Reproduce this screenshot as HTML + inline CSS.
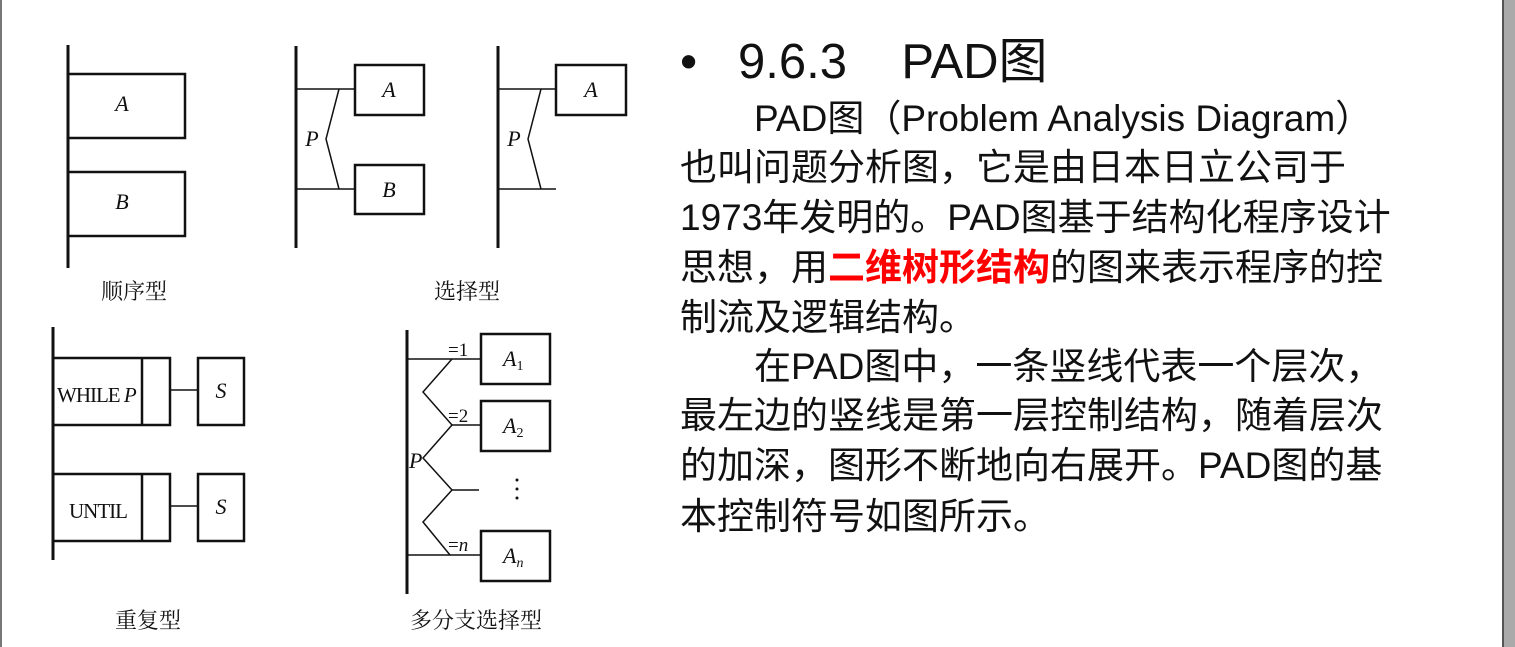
<!DOCTYPE html>
<html><head><meta charset="utf-8"><style>
html,body{margin:0;padding:0;background:#fff;}
body{width:1515px;height:647px;position:relative;overflow:hidden;}
.l{position:absolute;left:680px;font-family:"Liberation Sans","Noto Sans CJK SC",sans-serif;font-size:37px;line-height:50px;color:#111;white-space:nowrap;}
.r{color:#f00;font-weight:bold;}
</style></head><body>
<div style="position:absolute;left:0;top:0;width:2px;height:647px;background:#777"></div>
<div style="position:absolute;left:1502px;top:0;width:2px;height:647px;background:#555"></div>
<div style="position:absolute;left:1504px;top:0;width:11px;height:647px;background:#aaa"></div>

<svg width="660" height="647" style="position:absolute;left:0;top:0" font-family="Liberation Serif,Noto Serif CJK SC,serif">
<g stroke="#111" fill="none">
<line x1="68" y1="45" x2="68" y2="268" stroke-width="3"/>
<rect x="68" y="74" width="117" height="64" stroke-width="2.5"/>
<rect x="68" y="172" width="117" height="64" stroke-width="2.5"/>
<line x1="296" y1="46" x2="296" y2="248" stroke-width="3"/>
<line x1="296" y1="89" x2="355" y2="89" stroke-width="1.5"/>
<line x1="296" y1="189" x2="355" y2="189" stroke-width="1.5"/>
<polyline points="339,89 326,139 339,189" stroke-width="1.5"/>
<rect x="355" y="65" width="69" height="50" stroke-width="2.5"/>
<rect x="355" y="165" width="69" height="49" stroke-width="2.5"/>
<line x1="498" y1="46" x2="498" y2="248" stroke-width="3"/>
<line x1="498" y1="89" x2="556" y2="89" stroke-width="1.5"/>
<line x1="498" y1="189" x2="556" y2="189" stroke-width="1.5"/>
<polyline points="541,89 528,139 541,189" stroke-width="1.5"/>
<rect x="556" y="65" width="70" height="50" stroke-width="2.5"/>
<line x1="53" y1="327" x2="53" y2="560" stroke-width="3"/>
<rect x="53" y="358" width="117" height="67" stroke-width="2.5"/>
<line x1="142" y1="358" x2="142" y2="425" stroke-width="2.5"/>
<line x1="170" y1="390" x2="198" y2="390" stroke-width="1.5"/>
<rect x="198" y="358" width="46" height="67" stroke-width="2.5"/>
<rect x="53" y="474" width="117" height="67" stroke-width="2.5"/>
<line x1="142" y1="474" x2="142" y2="541" stroke-width="2.5"/>
<line x1="170" y1="506" x2="198" y2="506" stroke-width="1.5"/>
<rect x="198" y="474" width="46" height="67" stroke-width="2.5"/>
<line x1="407" y1="330" x2="407" y2="594" stroke-width="3"/>
<line x1="407" y1="359" x2="481" y2="359" stroke-width="1.5"/>
<line x1="452" y1="425" x2="481" y2="425" stroke-width="1.5"/>
<line x1="452" y1="490" x2="479" y2="490" stroke-width="1.5"/>
<line x1="407" y1="555" x2="481" y2="555" stroke-width="1.5"/>
<polyline points="452,359 423,392 452,425 423,458 452,490 423,522 450,555" stroke-width="1.5"/>
<rect x="481" y="334" width="69" height="50" stroke-width="2.5"/>
<rect x="481" y="401" width="69" height="50" stroke-width="2.5"/>
<rect x="481" y="531" width="69" height="50" stroke-width="2.5"/>
</g>
<g fill="#111" font-size="22">
<text x="122" y="111" text-anchor="middle" font-style="italic">A</text>
<text x="122" y="209" text-anchor="middle" font-style="italic">B</text>
<text x="389" y="97" text-anchor="middle" font-style="italic">A</text>
<text x="389" y="197" text-anchor="middle" font-style="italic">B</text>
<text x="312" y="146" text-anchor="middle" font-style="italic">P</text>
<text x="591" y="97" text-anchor="middle" font-style="italic">A</text>
<text x="514" y="146" text-anchor="middle" font-style="italic">P</text>
<text x="57" y="402" font-size="21" letter-spacing="-1">WHILE <tspan font-style="italic">P</tspan></text>
<text x="69" y="518" font-size="21" letter-spacing="-1">UNTIL</text>
<text x="221" y="398" text-anchor="middle" font-style="italic">S</text>
<text x="221" y="514" text-anchor="middle" font-style="italic">S</text>
<text x="448" y="356" font-size="19">=1</text>
<text x="448" y="422" font-size="19">=2</text>
<text x="448" y="551" font-size="19">=<tspan font-style="italic">n</tspan></text>
<text x="409" y="468" font-style="italic">P</text>
<text x="503" y="366" font-style="italic">A<tspan font-size="14" dy="4" font-style="normal">1</tspan></text>
<text x="503" y="433" font-style="italic">A<tspan font-size="14" dy="4" font-style="normal">2</tspan></text>
<text x="503" y="563" font-style="italic">A<tspan font-size="14" dy="4">n</tspan></text>
<circle cx="517" cy="480" r="1.5"/><circle cx="517" cy="489" r="1.5"/><circle cx="517" cy="498" r="1.5"/>
<text x="134" y="299" text-anchor="middle" font-size="22">顺序型</text>
<text x="467" y="299" text-anchor="middle" font-size="22">选择型</text>
<text x="148" y="628" text-anchor="middle" font-size="22">重复型</text>
<text x="476" y="628" text-anchor="middle" font-size="22">多分支选择型</text>
</g>
</svg>

<div class="l" style="left:680px;top:32px;font-size:49px;line-height:60px;">•&nbsp;&nbsp;&nbsp;9.6.3&nbsp;&nbsp;&nbsp;&nbsp;PAD图</div>
<div class="l" style="left:754px;top:94px">PAD图（Problem Analysis Diagram）</div>
<div class="l" style="top:143px">也叫问题分析图，它是由日本日立公司于</div>
<div class="l" style="top:193px">1973年发明的。PAD图基于结构化程序设计</div>
<div class="l" style="top:243px">思想，用<span class="r">二维树形结构</span>的图来表示程序的控</div>
<div class="l" style="top:293px">制流及逻辑结构。</div>
<div class="l" style="left:754px;top:342px">在PAD图中，一条竖线代表一个层次，</div>
<div class="l" style="top:391px">最左边的竖线是第一层控制结构，随着层次</div>
<div class="l" style="top:441px">的加深，图形不断地向右展开。PAD图的基</div>
<div class="l" style="top:492px">本控制符号如图所示。</div>
</body></html>
